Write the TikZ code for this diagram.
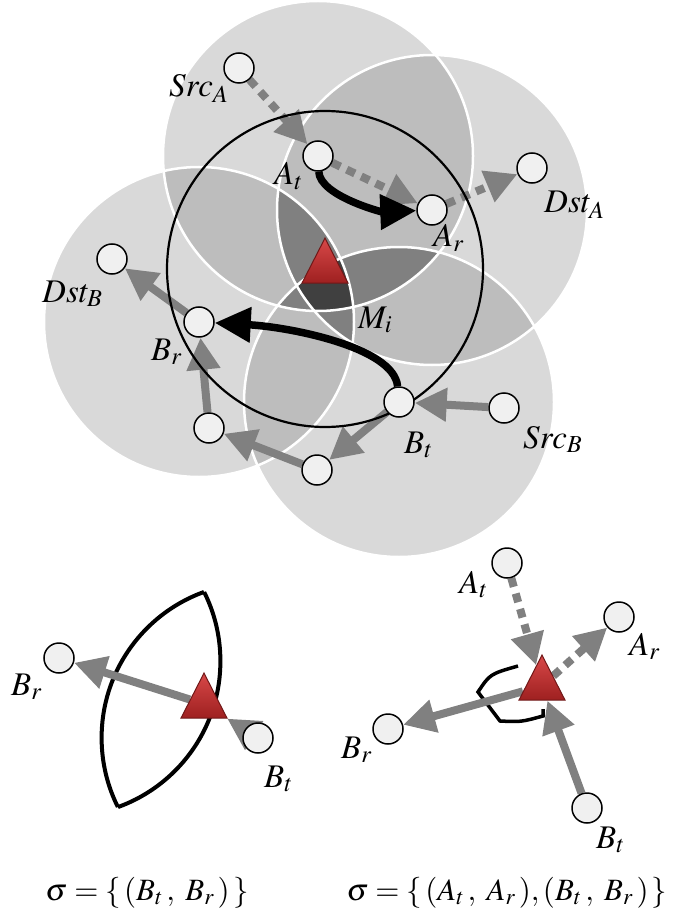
\documentclass[tikz,border=0pt]{standalone}
\usepackage{mathptmx}
\usetikzlibrary{arrows.meta,shapes.geometric,backgrounds}

\definecolor{rangeone}{HTML}{D9D9D9}
\definecolor{rangetwo}{HTML}{BDBDBD}
\definecolor{rangethree}{HTML}{808080}
\definecolor{rangefour}{HTML}{404040}
\definecolor{hostfill}{HTML}{F0F0F0}
\definecolor{flowgray}{HTML}{808080}
\definecolor{mobtop}{HTML}{D84848}
\definecolor{mobbot}{HTML}{9E2020}
\definecolor{mobline}{HTML}{701818}

\tikzset{
  host/.style={circle, draw, line width=1.5pt, fill=hostfill, minimum size=30pt, inner sep=0pt},
  mobile/.style={isosceles triangle, isosceles triangle stretches, shape border rotate=90,
    minimum width=46pt, minimum height=45pt, inner sep=0pt, draw=mobline, line width=1pt,
    top color=mobtop, bottom color=mobbot},
  lbl/.style={anchor=base west, inner sep=0pt, font=\fontsize{33}{36}\selectfont},
  sigma/.style={anchor=base, inner sep=0pt, font=\fontsize{31}{34}\selectfont},
  fwd/.style={draw=flowgray, line width=8pt, -{Triangle[length=32pt,width=32pt]}},
  fwddash/.style={fwd, dash pattern=on 9pt off 7pt},
  relay/.style={draw=black, line width=7.5pt, -{Triangle[length=36pt,width=34pt]}},
  rangeline/.style={draw=white, line width=2.5pt},
}

\begin{document}
\begin{tikzpicture}[x=1pt, y=-1pt]
  \useasboundingbox (0,0) rectangle (674,917);
  % Knoten oben
  \node[host] (SrcA) at (239,68) {};
  \node[host] (At) at (318,156) {};
  \node[host] (Ar) at (432,210) {};
  \node[host] (DstA) at (532,168) {};
  \node[host] (DstB) at (112,259) {};
  \node[host] (Br) at (199,322) {};
  \node[host] (Bh) at (209,428) {};
  \node[host] (Bg) at (317,470) {};
  \node[host] (Bt) at (399,402) {};
  \node[host] (SrcB) at (504,408) {};
  \coordinate (Mc) at (325,269);
  \node[mobile] (Mi) at (Mc) {};
  % Beschriftung oben
  \node[lbl] (lSrcA) at (169,97) {$Src_A$};
  \node[lbl] (lAt) at (274,185) {$A_t$};
  \node[lbl] (lAr) at (433,247) {$A_r$};
  \node[lbl] (lDstA) at (544,213) {$Dst_A$};
  \node[lbl] (lDstB) at (42,302) {$Dst_B$};
  \node[lbl] (lBr) at (151,360) {$B_r$};
  \node[lbl] (lMi) at (358,328) {$M_i$};
  \node[lbl] (lBt) at (404,453) {$B_t$};
  \node[lbl] (lSrcB) at (523,448) {$Src_B$};
  % Knoten unten links
  \node[host] (lpBr) at (59,658) {};
  \node[host] (lpBt) at (258,738) {};
  \node[mobile] (lpM) at (204,704) {};
  \node[lbl] (llBr) at (11,695) {$B_r$};
  \node[lbl] (llBt) at (264,787) {$B_t$};
  \node[sigma] (lSigma) at (147,900) {$\sigma = \{\,(B_t\,,\;B_r\,)\,\}$};
  % Knoten unten rechts
  \node[host] (rpAt) at (507,563) {};
  \node[host] (rpAr) at (619,617) {};
  \node[host] (rpBr) at (388,729) {};
  \node[host] (rpBt) at (587,808) {};
  \node[mobile] (rpM) at (542,686) {};
  \node[lbl] (rlAt) at (459,593) {$A_t$};
  \node[lbl] (rlAr) at (629,655) {$A_r$};
  \node[lbl] (rlBr) at (341,758) {$B_r$};
  \node[lbl] (rlBt) at (596,848) {$B_t$};
  \node[sigma] (rSigma) at (507,900) {$\sigma = \{\,(A_t\,,\;A_r\,),(B_t\,,\;B_r\,)\,\}$};

  \begin{pgfonlayer}{background}
    % Funkbereiche
    \foreach \c in {At,Ar,Br,Bt}{ \fill[rangeone] (\c) circle (155pt); }
    \foreach \p/\q in {At/Ar,At/Br,At/Bt,Ar/Br,Ar/Bt,Br/Bt}{
      \begin{scope} \clip (\p) circle (155pt); \fill[rangetwo] (\q) circle (155pt); \end{scope}
    }
    \foreach \p/\q/\u in {At/Ar/Br,At/Ar/Bt,At/Br/Bt,Ar/Br/Bt}{
      \begin{scope} \clip (\p) circle (155pt); \clip (\q) circle (155pt);
        \fill[rangethree] (\u) circle (155pt); \end{scope}
    }
    \begin{scope} \clip (At) circle (155pt); \clip (Ar) circle (155pt); \clip (Br) circle (155pt);
      \fill[rangefour] (Bt) circle (155pt); \end{scope}
    \foreach \c in {At,Ar,Br,Bt}{ \draw[rangeline] (\c) circle (155pt); }
    % Pfade A und B
    \draw[fwddash] (SrcA) -- (At);
    \draw[fwddash] (At) -- (Ar);
    \draw[fwddash] (Ar) -- (DstA);
    \draw[fwd] (SrcB) -- (Bt);
    \draw[fwd] (Bt) -- (Bg);
    \draw[fwd] (Bg) -- (Bh);
    \draw[fwd] (Bh) -- (Br);
    \draw[fwd] (Br) -- (DstB);
    % Reichweite M_i
    \draw[line width=2.2pt] (Mc) circle (158pt);
    \draw[relay] (At) .. controls +(2,40) and +(-50,2) .. (Ar);
    \draw[relay] (Bt) .. controls +(-5,-55) and +(90,5) .. (Br);
    % Linse unten links
    \begin{scope} \clip (256.6,737.8) circle (155pt); \draw[line width=4pt] (65.4,661.2) circle (155pt); \end{scope}
    \begin{scope} \clip (65.4,661.2) circle (155pt); \draw[line width=4pt] (256.6,737.8) circle (155pt); \end{scope}
    \draw[fwd] (lpBt) -- (lpM);
    \draw[fwd] (lpM) -- (lpBr);
    % Bereich unten rechts
    \draw[line width=3.5pt, line join=miter] (543,709) -- (543,716) .. controls (521,722) .. (500,721)
      -- (478,692) .. controls (490,674) .. (518,666);
    \draw[fwddash] (rpAt) -- (rpM);
    \draw[fwddash] (rpM) -- (rpAr);
    \draw[fwd] (rpBt) -- (rpM);
    \draw[fwd] (rpM) -- (rpBr);
  \end{pgfonlayer}
\end{tikzpicture}
\end{document}
